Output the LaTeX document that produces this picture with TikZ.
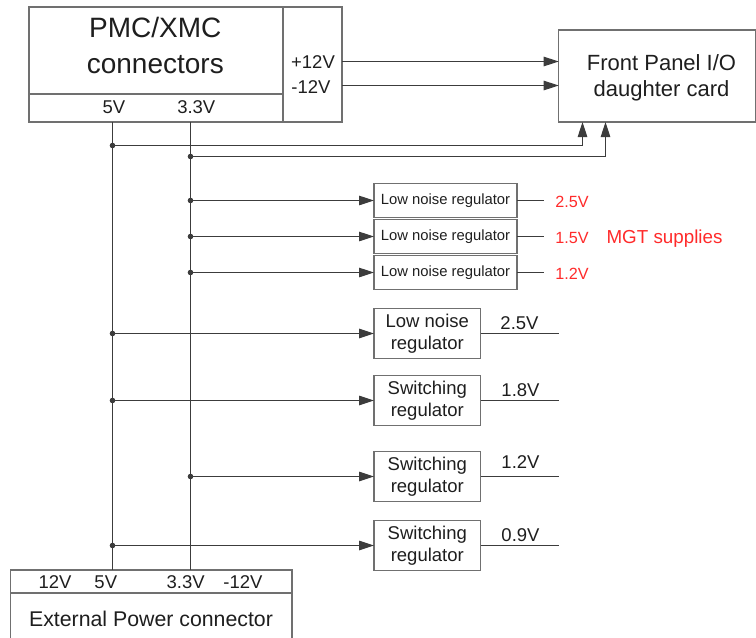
\documentclass[tikz,border=0pt]{standalone}
\usepackage{fontspec}
\setmainfont{Liberation Sans}
\usetikzlibrary{arrows.meta}
\definecolor{linec}{HTML}{3C3C3C}
\definecolor{boxc}{HTML}{707070}
\definecolor{redt}{HTML}{FF2A2A}
\definecolor{txt}{HTML}{1E1E1E}
\begin{document}
\begin{tikzpicture}[x=1pt,y=-1pt,
  box/.style={draw=boxc,line width=1.4pt,inner sep=0pt,outer sep=0pt,text=txt,align=center},
  divider/.style={draw=boxc,line width=1.4pt},
  wire/.style={draw=linec,line width=1.1pt},
  arr/.style={wire,-{Triangle[length=15pt,width=9.5pt]}},
  dot/.style={circle,fill=linec,inner sep=0pt,minimum size=5.6pt},
  lbl/.style={text=txt,inner sep=0pt,anchor=base},
  f28/.style={font=\fontsize{28}{32}\selectfont},
  f22/.style={font=\fontsize{22}{26}\selectfont},
  f185/.style={font=\fontsize{18.5}{22.5}\selectfont},
  f15/.style={font=\fontsize{14.8}{17}\selectfont},
  redlbl/.style={text=redt,inner sep=0pt,anchor=base}
]
\useasboundingbox (0,0) rectangle (756,638);

% ---------- PMC/XMC connectors ----------
\node[box,minimum width=313pt,minimum height=115pt] (pmc) at (185.5,64.5) {};
\coordinate (pdiv) at (283,94);
\draw[divider] (pdiv |- pmc.north) -- (pdiv |- pmc.south);
\draw[divider] (pmc.west |- pdiv) -- (pdiv);
\node[lbl,f28] (pmct1) at (155.3,37.5) {PMC/XMC};
\node[lbl,f28] (pmct2) at (155.3,73.3) {connectors};
\node[lbl,f185] (pmc5) at (114,113.3) {5V};
\node[lbl,f185] (pmc33) at (196.3,113.3) {3.3V};
\node[lbl,f185] (pmcp12) at (313,68.5) {+12V};
\node[lbl,f185] (pmcm12) at (311,93) {-12V};

% ---------- Front panel ----------
\node[box,minimum width=197pt,minimum height=92pt] (fp) at (657.2,76) {};
\node[lbl,f22] (fpt1) at (661.5,70) {Front Panel I/O};
\node[lbl,f22] (fpt2) at (661.5,96.7) {daughter card};

% ---------- External power connector ----------
\node[box,minimum width=281.3pt,minimum height=70pt] (ext) at (151.3,605) {};
\coordinate (ediv) at (0,593);
\draw[divider] (ext.west |- ediv) -- (ext.east |- ediv);
\node[lbl,f185] (e12) at (55,588.3) {12V};
\node[lbl,f185] (e5) at (105.8,588.3) {5V};
\node[lbl,f185] (e33) at (185.6,588.3) {3.3V};
\node[lbl,f185] (em12) at (243,588.3) {-12V};
\node[lbl,font=\fontsize{21.3}{25}\selectfont] (extt) at (151,626) {External Power connector};

% ---------- rails ----------
\coordinate (x5) at (112.5,0);
\coordinate (x33) at (190.5,0);
\draw[wire] (pmc.south -| x5) -- (ext.north -| x5);
\draw[wire] (pmc.south -| x33) -- (ext.north -| x33);

% +/-12V to front panel
\coordinate (yp12) at (0,61.5);
\coordinate (ym12) at (0,85.5);
\draw[arr] (pmc.east |- yp12) -- (fp.west |- yp12);
\draw[arr] (pmc.east |- ym12) -- (fp.west |- ym12);

% 5V and 3.3V to front panel
\node[dot] (j5a) at (112.5,145.5) {};
\node[dot] (j33a) at (190.5,156.5) {};
\coordinate (fpa) at (582.5,0);
\coordinate (fpb) at (605.5,0);
\draw[arr] (j5a.center) -| (fp.south -| fpa);
\draw[arr] (j33a.center) -| (fp.south -| fpb);

% ---------- small low noise regulators ----------
\node[box,f15,minimum width=143pt,minimum height=33.5pt] (ln1) at (445.5,200.5) {Low noise regulator};
\node[box,f15,minimum width=143pt,minimum height=33.5pt] (ln2) at (445.5,236.5) {Low noise regulator};
\node[box,f15,minimum width=143pt,minimum height=33.5pt] (ln3) at (445.5,272.5) {Low noise regulator};
\node[dot] (j33b) at (190.5,200.5) {};
\node[dot] (j33c) at (190.5,236.5) {};
\node[dot] (j33d) at (190.5,272.5) {};
\draw[arr] (j33b.center) -- (ln1.west);
\draw[arr] (j33c.center) -- (ln2.west);
\draw[arr] (j33d.center) -- (ln3.west);
\draw[wire] (ln1.east) -- ++(27,0) coordinate (o1);
\draw[wire] (ln2.east) -- ++(27,0) coordinate (o2);
\draw[wire] (ln3.east) -- ++(27,0) coordinate (o3);
\node[redlbl,font=\fontsize{16.2}{19}\selectfont] (r1) at (572,207) {2.5V};
\node[redlbl,font=\fontsize{16.2}{19}\selectfont] (r2) at (572,243) {1.5V};
\node[redlbl,font=\fontsize{16.2}{19}\selectfont] (r3) at (572,279) {1.2V};
\node[redlbl,font=\fontsize{18.8}{22}\selectfont] (mgt) at (664.5,243.3) {MGT supplies};

% ---------- large regulators ----------
\node[box,f185,minimum width=106.5pt,minimum height=50.5pt] (lr1) at (427.3,333.5) {Low noise\\[-1pt]regulator};
\node[box,f185,minimum width=106.5pt,minimum height=50.5pt] (lr2) at (427.3,400.5) {Switching\\[-1pt]regulator};
\node[box,f185,minimum width=106.5pt,minimum height=50.5pt] (lr3) at (427.3,476.5) {Switching\\[-1pt]regulator};
\node[box,f185,minimum width=106.5pt,minimum height=50.5pt] (lr4) at (427.3,545.5) {Switching\\[-1pt]regulator};
\node[dot] (j5b) at (112.5,333.5) {};
\node[dot] (j5c) at (112.5,400.5) {};
\node[dot] (j33e) at (190.5,476.5) {};
\node[dot] (j5d) at (112.5,545.5) {};
\draw[arr] (j5b.center) -- (lr1.west);
\draw[arr] (j5c.center) -- (lr2.west);
\draw[arr] (j33e.center) -- (lr3.west);
\draw[arr] (j5d.center) -- (lr4.west);
\draw[wire] (lr1.east) -- ++(78.5,0) coordinate (o4);
\draw[wire] (lr2.east) -- ++(78.5,0) coordinate (o5);
\draw[wire] (lr3.east) -- ++(78.5,0) coordinate (o6);
\draw[wire] (lr4.east) -- ++(78.5,0) coordinate (o7);
\node[lbl,f185] (v4) at (519.5,329.3) {2.5V};
\node[lbl,f185] (v5) at (520.5,396) {1.8V};
\node[lbl,f185] (v6) at (520.5,468.5) {1.2V};
\node[lbl,f185] (v7) at (520.5,541.5) {0.9V};
\end{tikzpicture}
\end{document}
